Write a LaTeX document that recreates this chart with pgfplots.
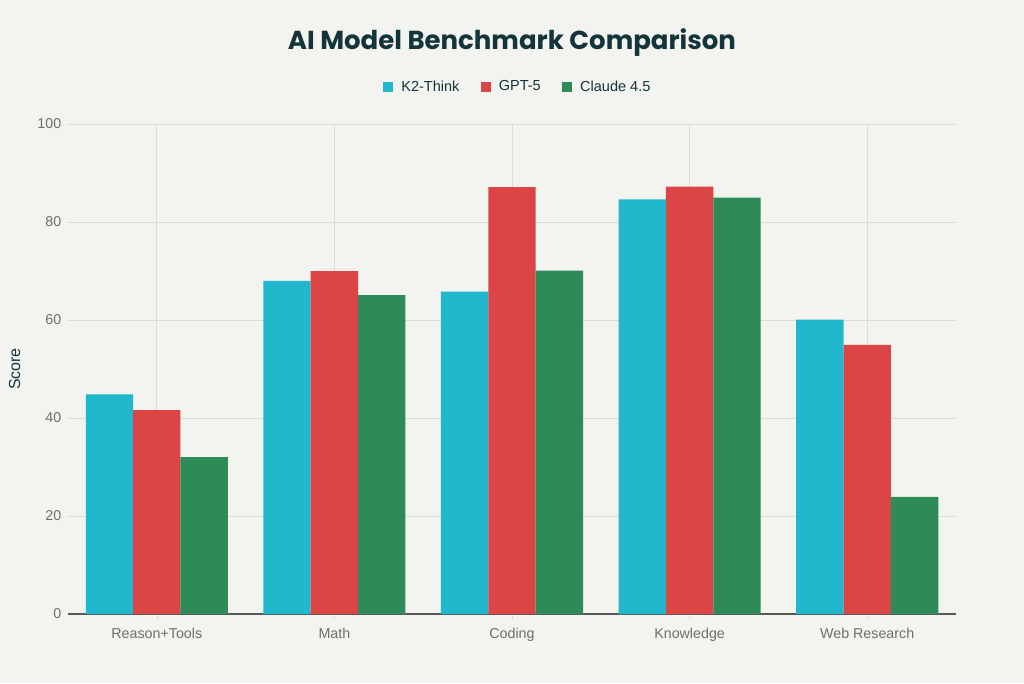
\documentclass[border=0pt]{standalone}
\usepackage{pgfplots}
\pgfplotsset{compat=1.18}
\usepackage{fontspec}
\setmainfont{Liberation Sans}
\newfontfamily\titlefont{Poppins}
\definecolor{bg}{HTML}{F3F3EF}
\definecolor{kcol}{HTML}{21B8CD}
\definecolor{gcol}{HTML}{DB4545}
\definecolor{ccol}{HTML}{2E8B57}
\definecolor{titlec}{HTML}{13343B}
\definecolor{tickc}{HTML}{6E6E6E}
\definecolor{gridc}{HTML}{DDDDD8}
\begin{document}
\begin{tikzpicture}
\path[fill=bg] (0,0) rectangle (768pt,512.25pt);
\begin{axis}[
  at={(51pt,51.75pt)}, anchor=south west,
  scale only axis, width=666pt, height=367.5pt,
  ymin=0, ymax=100, xmin=-0.5, xmax=4.5,
  xtick={0,1,2,3,4},
  xticklabels={Reason+Tools,Math,Coding,Knowledge,Web Research},
  ytick={0,20,40,60,80,100},
  /pgf/number format/assume math mode=true,
  ticklabel style={font=\fontsize{10.7}{12}\selectfont, text=tickc},
  xtick style={draw=gridc}, ytick style={draw=gridc},
  major tick length=4pt,
  xmajorgrids, ymajorgrids,
  grid style={draw=gridc, line width=0.7pt},
  axis x line*=bottom, axis y line*=left,
  x axis line style={draw=black!65, line width=0.8pt, -},
  y axis line style={draw=none},
  xticklabel style={yshift=-3pt},
  yticklabel style={xshift=-1.5pt},
  ylabel={Score}, ylabel shift=6pt,
  ylabel style={font=\fontsize{12}{14}\selectfont, text=titlec},
  ybar, bar width=0.2667,
  title={\titlefont\bfseries AI Model Benchmark Comparison},
  title style={at={(0.5,1.15)}, anchor=center, font=\fontsize{19.5}{22}\selectfont, text=titlec},
  legend columns=3,
  legend style={at={(0.507,1.076)}, anchor=center, draw=none, fill=none,
    font=\fontsize{10.9}{12}\selectfont, text=titlec,
    /tikz/every odd column/.append style={column sep=4pt},
    /tikz/every even column/.append style={column sep=14pt}},
  legend image code/.code={\fill[#1] (0pt,-3.7pt) rectangle (7.5pt,3.7pt);},
]
\addplot[fill=kcol, draw=none, bar shift=-0.2667] coordinates {(0,44.8) (1,68.0) (2,65.8) (3,84.6) (4,60.1)};
\addplot[fill=gcol, draw=none, bar shift=0] coordinates {(0,41.6) (1,70.0) (2,87.1) (3,87.2) (4,54.9)};
\addplot[fill=ccol, draw=none, bar shift=0.2667] coordinates {(0,32.0) (1,65.1) (2,70.1) (3,85.0) (4,23.9)};
\legend{K2-Think,GPT-5,Claude 4.5}
\end{axis}
\end{tikzpicture}
\end{document}
